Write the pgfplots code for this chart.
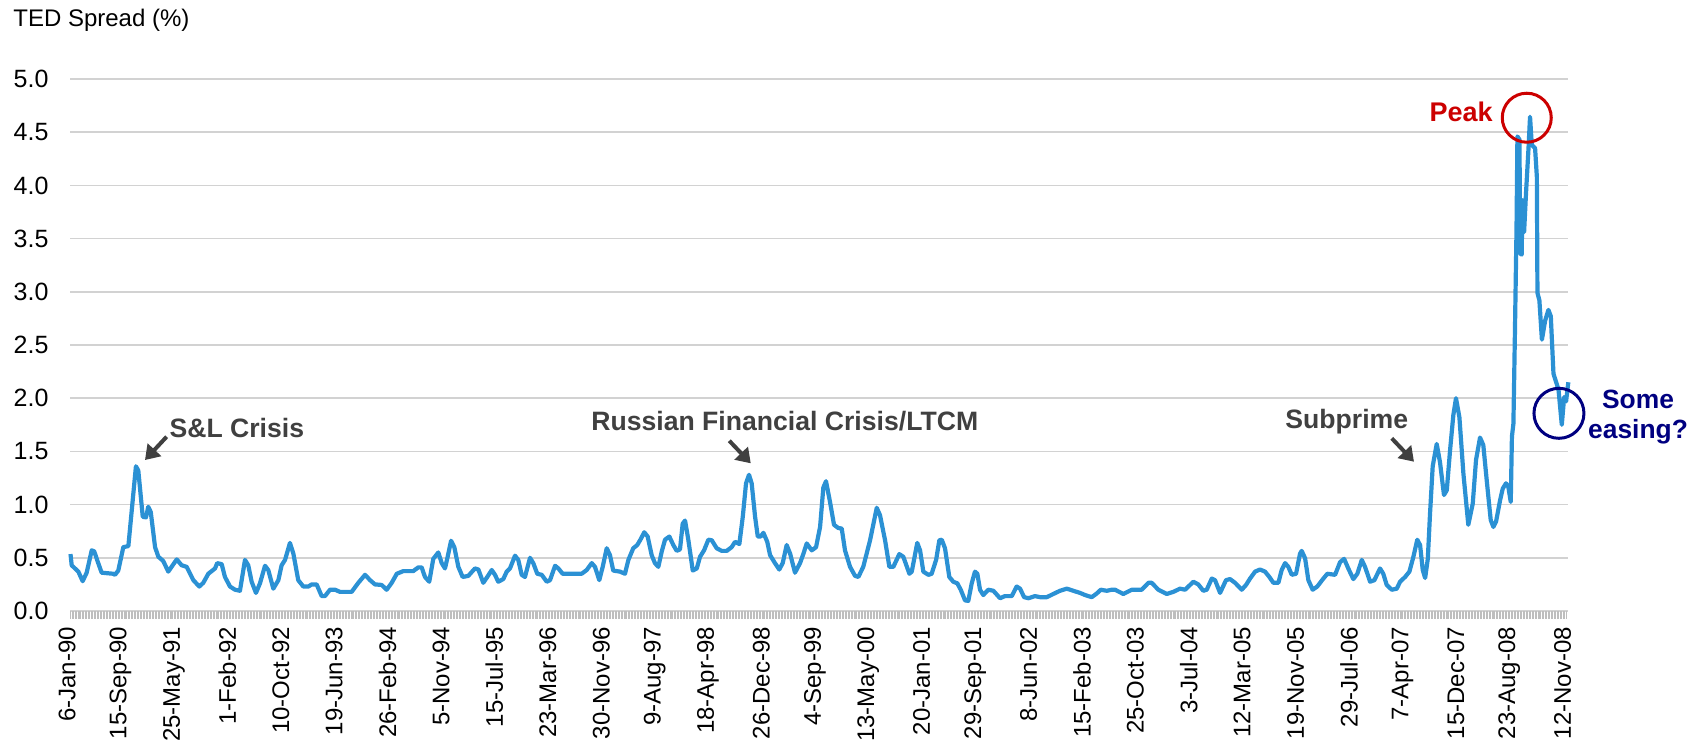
\documentclass[border=0pt]{standalone}
\usepackage{fontspec}
\setmainfont{Liberation Sans}
\usepackage{pgfplots}
\pgfplotsset{compat=1.18}
\usetikzlibrary{arrows.meta}
\definecolor{tedblue}{RGB}{43,145,212}
\definecolor{gridgray}{RGB}{210,210,210}
\definecolor{tickgray}{RGB}{190,190,190}
\definecolor{annot}{RGB}{64,64,64}
\definecolor{peakred}{RGB}{204,0,0}
\definecolor{easenavy}{RGB}{0,0,128}
\begin{document}
\begin{tikzpicture}
\useasboundingbox (-35.25pt,-66.5pt) rectangle (815.25pt,305.5pt);
\begin{axis}[
  at={(0pt,0pt)}, anchor=south west, scale only axis,
  width=748.9pt, height=266pt,
  xmin=0, xmax=1009.5, ymin=0, ymax=5,
  clip=false,
  axis line style={draw=none},
  ymajorgrids, grid style={gridgray, line width=0.8pt},
  ytick={0,0.5,1,1.5,2,2.5,3,3.5,4,4.5,5},
  yticklabel style={/pgf/number format/fixed, /pgf/number format/fixed zerofill, /pgf/number format/precision=1, /pgf/number format/assume math mode=true},
  yticklabel style={font=\fontsize{12.5}{14}\selectfont, inner sep=0pt, xshift=-7pt},
  ytick style={draw=none},
  xtick={0,36,72,108,144,180,216,252,288,324,360,396,432,468,504,540,576,612,648,684,720,756,792,828,864,900,936,972,1008},
  xticklabels={6-Jan-90,15-Sep-90,25-May-91,1-Feb-92,10-Oct-92,19-Jun-93,26-Feb-94,5-Nov-94,15-Jul-95,23-Mar-96,30-Nov-96,9-Aug-97,18-Apr-98,26-Dec-98,4-Sep-99,13-May-00,20-Jan-01,29-Sep-01,8-Jun-02,15-Feb-03,25-Oct-03,3-Jul-04,12-Mar-05,19-Nov-05,29-Jul-06,7-Apr-07,15-Dec-07,23-Aug-08,12-Nov-08},
  x tick label style={font=\fontsize{12}{14}\selectfont, inner sep=0pt, xshift=-1.7pt, rotate=90, anchor=east},
  xticklabel shift=4pt,
  minor x tick num=35,
  xtick pos=lower, ytick pos=left,
  tick align=outside,
  major tick length=3.8pt, minor tick length=3.8pt,
  xtick style={draw=tickgray, line width=0.4pt},
  xmajorgrids=false, xminorgrids=false,
]
\addplot[tedblue, line width=2.1pt, line join=round, mark=none] table {
x y
0 0.535
0.8 0.43
3.0 0.40
5.3 0.37
8.2 0.28
10.9 0.36
14.3 0.57
16.0 0.56
18.7 0.45
21.0 0.36
28.8 0.35
30.0 0.34
32.2 0.38
35.6 0.60
39.0 0.61
44.1 1.36
45.7 1.32
48.7 0.885
50.9 0.88
52.4 0.98
54.1 0.93
57.0 0.60
59.2 0.51
62.5 0.47
65.9 0.37
71.6 0.485
74.9 0.43
78.3 0.415
82.8 0.29
86.8 0.23
89.5 0.265
92.9 0.35
97.4 0.40
98.9 0.45
101.9 0.44
104.1 0.32
107.5 0.23
110.9 0.20
114.2 0.19
117.6 0.48
119.8 0.43
122.1 0.275
125.0 0.17
127.7 0.26
131.1 0.425
133.3 0.385
136.7 0.21
140.1 0.29
142.3 0.43
144.6 0.48
147.9 0.64
150.2 0.54
153.5 0.29
156.9 0.23
160.3 0.23
162.6 0.25
165.9 0.25
169.3 0.14
171.5 0.14
174.9 0.20
178.3 0.20
181.6 0.18
189.5 0.18
194.0 0.265
198.5 0.34
201.9 0.29
205.2 0.25
209.7 0.245
213.1 0.20
216.5 0.265
219.9 0.35
224.3 0.375
231.0 0.375
234.4 0.41
236.7 0.41
238.9 0.32
241.8 0.275
244.5 0.49
247.9 0.55
250.2 0.45
252.4 0.40
254.2 0.51
256.5 0.66
258.7 0.60
261.4 0.415
264.3 0.32
268.1 0.33
272.6 0.40
274.9 0.39
278.2 0.265
280.9 0.32
283.9 0.385
286.1 0.34
288.3 0.275
291.7 0.30
294.0 0.37
296.2 0.40
299.6 0.52
301.8 0.48
304.1 0.34
306.3 0.32
309.7 0.50
311.9 0.45
314.6 0.35
317.6 0.34
321.0 0.275
323.2 0.29
326.6 0.425
328.8 0.40
331.7 0.35
336.7 0.35
344.5 0.35
347.9 0.385
351.3 0.45
353.5 0.415
356.4 0.29
358.7 0.415
361.4 0.59
363.6 0.525
365.8 0.38
370.4 0.37
373.7 0.35
376.0 0.48
379.3 0.59
382.0 0.62
384.5 0.68
386.7 0.74
389.0 0.70
391.7 0.525
393.9 0.45
396.2 0.415
398.5 0.56
400.7 0.67
403.6 0.70
406.3 0.62
408.6 0.565
410.8 0.58
412.6 0.82
414.2 0.85
416.4 0.67
419.4 0.38
422.1 0.40
424.3 0.51
427.0 0.57
429.9 0.67
432.2 0.665
435.5 0.59
438.9 0.565
442.3 0.565
445.6 0.60
447.9 0.65
450.8 0.63
453.1 0.885
455.3 1.20
457.3 1.28
459.1 1.20
461.4 0.885
463.2 0.70
465.2 0.70
467.0 0.735
469.6 0.65
471.5 0.525
474.8 0.45
477.7 0.39
480.0 0.45
482.7 0.62
485.0 0.54
488.3 0.36
491.7 0.45
493.9 0.535
496.2 0.635
499.6 0.57
502.5 0.60
505.2 0.79
507.4 1.16
509.2 1.22
511.9 1.025
514.6 0.81
517.5 0.78
519.8 0.775
522.0 0.57
525.4 0.415
528.8 0.33
531.0 0.32
534.3 0.415
538.9 0.665
543.4 0.97
545.6 0.90
549.0 0.665
551.9 0.415
554.6 0.415
558.6 0.535
561.3 0.51
565.4 0.35
567.0 0.37
570.7 0.64
572.6 0.57
574.8 0.37
578.2 0.34
580.4 0.35
583.4 0.48
585.6 0.665
587.2 0.67
589.4 0.59
592.3 0.32
595.0 0.275
597.7 0.26
600.0 0.20
602.9 0.10
605.1 0.095
607.4 0.26
609.6 0.37
611.2 0.35
613.0 0.20
615.2 0.15
618.6 0.20
622.0 0.19
626.5 0.12
629.8 0.14
634.4 0.14
637.7 0.23
640.0 0.21
642.7 0.13
645.6 0.12
650.1 0.14
653.5 0.13
658.0 0.13
662.4 0.16
666.9 0.19
671.5 0.21
675.9 0.19
680.4 0.17
683.8 0.15
688.3 0.13
691.7 0.165
694.4 0.20
698.4 0.19
701.8 0.20
704.0 0.20
709.6 0.16
715.3 0.20
722.0 0.20
726.5 0.265
728.7 0.265
733.2 0.20
738.9 0.16
743.3 0.18
747.8 0.21
751.2 0.20
756.8 0.275
760.1 0.25
763.5 0.19
765.8 0.20
769.2 0.305
771.4 0.29
774.8 0.17
778.8 0.29
781.5 0.30
784.9 0.265
789.4 0.20
792.3 0.245
795.0 0.305
798.4 0.37
801.7 0.39
805.1 0.37
808.0 0.32
810.7 0.265
814.1 0.265
816.3 0.385
818.6 0.45
820.8 0.415
823.1 0.34
826.0 0.35
828.7 0.54
829.8 0.565
832.1 0.495
834.3 0.29
837.2 0.20
840.3 0.23
844.4 0.305
847.1 0.35
852.3 0.34
855.7 0.46
858.4 0.49
861.2 0.40
864.6 0.30
867.3 0.35
870.3 0.48
872.5 0.415
875.9 0.275
878.8 0.29
882.6 0.40
884.8 0.35
887.1 0.245
890.5 0.20
893.9 0.21
896.1 0.275
899.5 0.32
902.4 0.37
905.1 0.51
907.7 0.67
909.6 0.62
911.4 0.385
913.0 0.31
914.8 0.49
916.3 0.915
918.1 1.36
920.8 1.57
923.0 1.40
925.7 1.09
927.6 1.135
929.8 1.51
932.0 1.84
933.8 2.00
936.1 1.82
938.8 1.29
942.1 0.81
945.1 1.01
947.3 1.42
950.0 1.63
952.2 1.56
954.5 1.23
957.2 0.855
959.0 0.79
960.8 0.84
963.5 1.04
965.3 1.15
967.5 1.20
969.1 1.165
970.7 1.025
971.5 1.64
972.5 1.76
973.5 2.60
974.6 3.60
975.2 4.46
976.6 4.43
977.0 3.36
978.1 3.35
978.5 3.86
979.7 3.56
981.0 3.93
982.6 4.33
983.7 4.645
984.9 4.38
987.1 4.35
988.3 4.08
988.7 2.99
990.0 2.92
991.7 2.55
993.9 2.73
996.1 2.83
997.7 2.77
999.5 2.23
1002.9 2.08
1005.1 1.75
1006.7 2.01
1008.0 1.97
1009.5 2.15
};
% annotations
\node[anchor=west, text=annot, font=\bfseries\fontsize{13.3}{15}\selectfont, inner sep=0pt] at (axis cs:66.5,1.72) {S\&L Crisis};
\node[anchor=west, text=annot, font=\bfseries\fontsize{13.3}{15}\selectfont, inner sep=0pt] at (axis cs:350.8,1.78) {Russian Financial Crisis/LTCM};
\node[anchor=west, text=annot, font=\bfseries\fontsize{13.3}{15}\selectfont, inner sep=0pt] at (axis cs:818.6,1.78) {Subprime};
\draw[annot, line width=2pt, -{Triangle[length=7pt, width=9pt]}] (axis cs:64.8,1.638) -- (axis cs:50.2,1.419);
\draw[annot, line width=2pt, -{Triangle[length=7pt, width=9pt]}] (axis cs:444.0,1.60) -- (axis cs:458.5,1.388);
\draw[annot, line width=2pt, -{Triangle[length=7pt, width=9pt]}] (axis cs:890.5,1.623) -- (axis cs:905.5,1.403);
\node[anchor=east, text=peakred, font=\bfseries\fontsize{13.5}{15}\selectfont, inner sep=0pt] at (axis cs:958.8,4.69) {Peak};
\draw[peakred, line width=1.5pt] (axis cs:981.5,4.636) circle[radius=12.25pt];
\draw[easenavy, line width=1.5pt] (axis cs:1003.2,1.858) circle[radius=12.5pt];
\node[text=easenavy, font=\bfseries\fontsize{13.2}{15}\selectfont, inner sep=0pt, align=center] at (axis cs:1056.5,1.826) {Some\\easing?};
\end{axis}
\node[anchor=west, inner sep=0pt, font=\fontsize{12}{14}\selectfont] at (-28.75pt,295.5pt) {TED Spread (\%)};
\end{tikzpicture}
\end{document}
